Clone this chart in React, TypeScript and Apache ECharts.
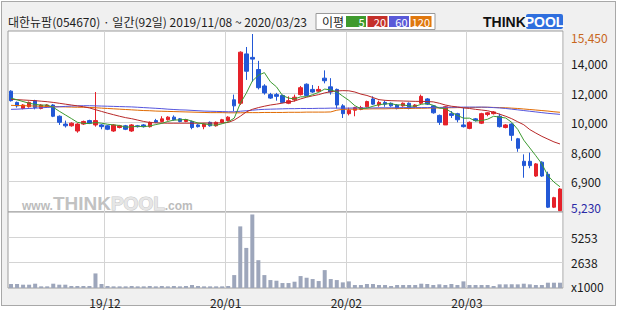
import React, { useEffect, useRef } from 'react';
import * as echarts from 'echarts';

// ---- trading days (2019/11/08 ~ 2020/03/23) ----
const nov19 = [8, 11, 12, 13, 14, 15, 18, 19, 20, 21, 22, 25, 26, 27, 28, 29];
const dec19 = [2, 3, 4, 5, 6, 9, 10, 11, 12, 13, 16, 17, 18, 19, 20, 23, 24, 26, 27, 30];
const jan20 = [2, 3, 6, 7, 8, 9, 10, 13, 14, 15, 16, 17, 20, 21, 22, 23, 28, 29, 30, 31];
const feb20 = [3, 4, 5, 6, 7, 10, 11, 12, 13, 14, 17, 18, 19, 20, 21, 24, 25, 26, 27, 28];
const mar20 = [2, 3, 4, 5, 6, 9, 10, 11, 12, 13, 16, 17, 18, 19, 20, 23];

const stockName = '대한뉴팜';
const stockCode = '054670';

// ---- prices ----
const opens = [12150, 11500, 11150, 11250, 11600, 11150, 11250, 11350, 10700, 10250,
  10150, 9850, 10250, 10450, 10200, 10200, 10150, 9850, 10050, 10150,
  9850, 10150, 10200, 10100, 10450, 10400, 10500, 10650, 10550, 10400,
  10400, 10200, 10100, 10350, 10150, 10350, 10450, 11650, 11450, 14300,
  14100, 13400, 12450, 11950, 11950, 11900, 11450, 11650, 11950, 12550,
  12250, 12150, 12900, 12400, 12250, 11300, 10850, 11050, 11100, 11250,
  11700, 11350, 11500, 11450, 11350, 11300, 11450, 11250, 11450, 11700,
  11300, 10750, 10200, 10850, 10850, 10200, 10000, 10550, 10300, 10800,
  10850, 10700, 10050, 10250, 9400, 8100, 8100, 7250, 8050, 7350,
  5450, 5250];
const closes = [11600, 11300, 11350, 11500, 11200, 11350, 11350, 10700, 10350, 10150,
  10300, 10250, 10400, 10300, 10450, 10100, 9950, 10200, 10150, 9950,
  10200, 10100, 10100, 10350, 10350, 10550, 10650, 10500, 10400, 10500,
  10050, 10100, 10250, 10150, 10350, 10500, 10650, 11300, 14400, 13300,
  14000, 12350, 12050, 11750, 11850, 11500, 11600, 11800, 12350, 11900,
  12100, 12250, 12750, 12100, 11350, 10850, 11050, 11200, 11200, 11550,
  11400, 11500, 11400, 11300, 11150, 11450, 11150, 11350, 11850, 11400,
  10900, 10350, 11250, 10750, 10500, 10100, 10350, 10450, 10850, 10900,
  10950, 10100, 10200, 9600, 8850, 7850, 7850, 7950, 7250, 5450,
  6000, 6500];
const lows = [11550, 11200, 11100, 11200, 11100, 11100, 11200, 10650, 10200, 10050,
  10100, 9750, 10200, 10250, 10100, 9950, 9900, 9800, 10000, 9900,
  9800, 10050, 10050, 10050, 10300, 10350, 10450, 10450, 10350, 10350,
  9950, 10050, 9950, 10100, 10100, 10300, 10400, 11000, 11350, 12800,
  12700, 12250, 11950, 11700, 11600, 11450, 11400, 11550, 11900, 11850,
  12050, 12100, 12600, 11950, 11150, 10600, 10750, 10700, 11050, 11200,
  11350, 11250, 11250, 11250, 11100, 11250, 11100, 11200, 11400, 11350,
  10850, 10200, 10200, 10600, 10350, 10050, 9950, 10400, 10250, 10700,
  10800, 10050, 10000, 9280, 8650, 7150, 7700, 7200, 7200, 5400,
  5400, 5230];
const highs = [12200, 11550, 11400, 11550, 11650, 11400, 11400, 11400, 10750, 10450,
  10350, 10300, 10450, 10500, 12100, 10250, 10200, 10250, 10200, 10200,
  10250, 10200, 10250, 10400, 10550, 10700, 10700, 10750, 10600, 10550,
  10450, 10250, 10300, 10400, 10400, 10550, 10700, 11950, 14450, 14700,
  15450, 13900, 12550, 12050, 12050, 11950, 11850, 11950, 12450, 12600,
  12500, 12450, 13350, 12900, 12300, 11400, 11200, 11250, 11300, 11600,
  11850, 11600, 11600, 11500, 11400, 11500, 11500, 11400, 11950, 11750,
  11350, 10800, 11300, 11000, 10900, 11200, 10400, 10600, 10900, 10950,
  11000, 10850, 10250, 10300, 9450, 8500, 8600, 8000, 8100, 7500,
  6050, 6550];

// ---- moving averages ----
const ma5 = [11750, 11650, 11550, 11450, 11390, 11340, 11350, 11220, 10990, 10780,
  10570, 10350, 10290, 10280, 10340, 10300, 10240, 10200, 10170, 10070,
  10090, 10120, 10100, 10140, 10220, 10290, 10400, 10480, 10490, 10520,
  10420, 10310, 10260, 10210, 10180, 10270, 10380, 10590, 11440, 12030,
  12730, 13070, 13220, 12690, 12400, 11900, 11750, 11700, 11820, 11830,
  11950, 12080, 12270, 12220, 12110, 11860, 11620, 11310, 11130, 11170,
  11280, 11370, 11410, 11430, 11350, 11360, 11290, 11280, 11390, 11440,
  11330, 11170, 11150, 10930, 10750, 10590, 10590, 10430, 10450, 10530,
  10700, 10650, 10600, 10350, 9940, 9320, 8870, 8420, 7950, 7270,
  6900, 6630];
const ma20 = [11680, 11660, 11640, 11620, 11600, 11570, 11540, 11500, 11450, 11400,
  11350, 11300, 11250, 11180, 11080, 10980, 10880, 10790, 10700, 10620,
  10560, 10480, 10400, 10340, 10320, 10310, 10300, 10300, 10300, 10300,
  10300, 10300, 10310, 10310, 10310, 10320, 10340, 10480, 10700, 10950,
  11100, 11200, 11280, 11350, 11400, 11460, 11520, 11580, 11700, 11800,
  11880, 11950, 12050, 12120, 12160, 12180, 12170, 12100, 11980, 11900,
  11780, 11660, 11620, 11600, 11590, 11580, 11570, 11560, 11560, 11550,
  11530, 11450, 11350, 11280, 11240, 11180, 11150, 11100, 11060, 11020,
  10930, 10820, 10700, 10560, 10380, 10210, 9930, 9730, 9540, 9380,
  9220, 9100];
const ma60 = [11100, 11110, 11130, 11150, 11170, 11190, 11210, 11230, 11250, 11270,
  11290, 11300, 11310, 11310, 11300, 11290, 11280, 11270, 11260, 11250,
  11240, 11220, 11200, 11180, 11160, 11140, 11110, 11090, 11070, 11060,
  11040, 11020, 11000, 10990, 10980, 10970, 10960, 10960, 10990, 11020,
  11050, 11080, 11100, 11110, 11120, 11130, 11140, 11140, 11150, 11150,
  11150, 11160, 11160, 11170, 11170, 11170, 11170, 11180, 11180, 11180,
  11180, 11190, 11190, 11190, 11190, 11200, 11200, 11200, 11200, 11200,
  11210, 11210, 11220, 11220, 11220, 11230, 11230, 11230, 11230, 11220,
  11200, 11180, 11150, 11110, 11070, 11030, 10990, 10950, 10910, 10870,
  10840, 10810];
const ma120 = [11330, 11320, 11310, 11300, 11290, 11280, 11270, 11260, 11250, 11240,
  11230, 11220, 11220, 11210, 11190, 11170, 11150, 11130, 11110, 11090,
  11070, 11050, 11030, 11020, 11000, 10990, 10980, 10970, 10960, 10950,
  10940, 10930, 10920, 10910, 10910, 10910, 10900, 10900, 10900, 10910,
  10910, 10910, 10920, 10920, 10920, 10920, 10930, 10930, 10930, 10940,
  10940, 10940, 10940, 10950, 11050, 11100, 11110, 11110, 11120, 11120,
  11130, 11130, 11130, 11140, 11140, 11150, 11150, 11160, 11160, 11170,
  11180, 11180, 11190, 11190, 11200, 11200, 11210, 11210, 11220, 11220,
  11210, 11200, 11190, 11170, 11150, 11120, 11090, 11060, 11030, 11000,
  10960, 10930];

// ---- volume (x1000) ----
const volumes = [413, 413, 344, 344, 447, 172, 172, 447, 344, 344,
  207, 207, 207, 207, 1515, 413, 207, 172, 172, 172,
  207, 172, 172, 207, 172, 207, 172, 207, 172, 207,
  310, 207, 172, 172, 172, 172, 207, 1343, 6405, 4166,
  7644, 2892, 1343, 826, 757, 516, 516, 654, 1240, 1067,
  930, 723, 1860, 930, 826, 585, 689, 310, 310, 413,
  413, 310, 310, 207, 310, 310, 310, 310, 447, 413,
  310, 379, 310, 413, 310, 689, 310, 310, 310, 310,
  207, 379, 379, 379, 379, 447, 379, 310, 310, 551,
  551, 551];

// ---- axis ticks ----
const priceMin = 5230;
const priceMax = 15450;
const priceTickLabels = ['5,230', '6,900', '8,600', '10,000', '12,000', '14,000', '15,450'];
const volumeMax = 7900;
const volumeTickLabels = ['x1000', '2638', '5253', ''];

const maPeriods = ['5', '20', '60', '120'];
const maColors = ['#3f9a2e', '#c4302a', '#5a5ad8', '#e0780e'];
const maLineColors = ['#3c9a30', '#b82828', '#5555dd', '#e06a00'];

const UP = '#e5222a';
const DOWN = '#2258d6';
const GRID_LINE = '#d4d4d4';
const FONT = '"Noto Sans CJK KR", "Noto Sans", sans-serif';

const pad = (d: number) => (d < 10 ? '0' + d : '' + d);
const categories: string[] = [
  ...nov19.map((d) => `2019/11/${pad(d)}`),
  ...dec19.map((d) => `2019/12/${pad(d)}`),
  ...jan20.map((d) => `2020/01/${pad(d)}`),
  ...feb20.map((d) => `2020/02/${pad(d)}`),
  ...mar20.map((d) => `2020/03/${pad(d)}`),
];
const monthStarts: number[] = categories
  .map((c, i) => (i > 0 && c.slice(0, 7) !== categories[i - 1].slice(0, 7) ? i : -1))
  .filter((i) => i >= 0);

const ohlc = opens.map((o, i) => [o, closes[i], lows[i], highs[i]]);

function buildOption() {
  const title = `${stockName}(${stockCode}) · 일간(${categories.length}일) ${categories[0]} ~ ${categories[categories.length - 1]}`;
  const legendGraphics: any[] = [
    { type: 'rect', shape: { x: 316, y: 13.5, width: 119, height: 16 }, style: { fill: '#fff', stroke: '#9a9a9a', lineWidth: 1 } },
    { type: 'text', x: 322, y: 21.5, style: { text: '이평', font: `12px ${FONT}`, fill: '#222', verticalAlign: 'middle' } },
  ];
  const boxX = [346, 367.5, 389, 410.5];
  const boxW = [20, 20, 20, 21];
  maPeriods.forEach((p, i) => {
    legendGraphics.push({ type: 'rect', shape: { x: boxX[i], y: 16, width: boxW[i], height: 11 }, style: { fill: maColors[i] } });
    legendGraphics.push({ type: 'text', x: boxX[i] + boxW[i] - 1.5, y: 21.8, style: { text: p, font: `11px ${FONT}`, fill: '#fff', align: 'right', verticalAlign: 'middle' } });
  });

  return {
    animation: false,
    textStyle: { fontFamily: FONT },
    grid: [
      { left: 8, top: 31, width: 555, height: 181, show: true, backgroundColor: '#fff', borderColor: '#9c9c9c', borderWidth: 1 },
      { left: 8, top: 34, width: 555, height: 177 },
      { left: 8, top: 212, width: 555, height: 76, show: true, backgroundColor: '#fff', borderColor: '#9c9c9c', borderWidth: 1 },
    ],
    xAxis: [
      {
        type: 'category', gridIndex: 0, data: categories, boundaryGap: true,
        axisLine: { show: false }, axisTick: { show: false }, axisLabel: { show: false },
        splitLine: { show: true, interval: (i: number) => monthStarts.includes(i), lineStyle: { color: GRID_LINE, width: 1 } },
      },
      { type: 'category', gridIndex: 1, data: categories, boundaryGap: true, show: false },
      {
        type: 'category', gridIndex: 2, data: categories, boundaryGap: true,
        axisLine: { show: false }, axisTick: { show: false },
        axisLabel: {
          interval: (i: number) => monthStarts.includes(i),
          formatter: (v: string) => `${v.slice(2, 4)}/${v.slice(5, 7)}`,
          color: '#222', fontSize: 12, fontFamily: FONT, margin: 8, padding: [0, 5, 0, 0],
        },
        splitLine: { show: true, interval: (i: number) => monthStarts.includes(i), lineStyle: { color: GRID_LINE, width: 1 } },
      },
    ],
    yAxis: [
      { type: 'value', gridIndex: 0, min: 0, max: 1, show: false },
      { type: 'value', gridIndex: 1, min: priceMin, max: priceMax, show: false },
      {
        type: 'value', gridIndex: 1, min: 0, max: priceTickLabels.length - 1, interval: 1, position: 'right',
        axisLine: { show: false }, axisTick: { show: false },
        axisLabel: {
          margin: 8, align: 'left',
          formatter: (v: number) => {
            const i = Math.round(v);
            const t = priceTickLabels[i];
            if (i === priceTickLabels.length - 1) return `{hi|${t}}`;
            if (i === 0) return `{lo|${t}}`;
            return `{n|${t}}`;
          },
          rich: {
            hi: { color: '#c8661c', fontSize: 12, fontFamily: FONT, padding: [7, 0, 0, 0] },
            lo: { color: '#2a2aa6', fontSize: 12, fontFamily: FONT, padding: [0, 0, 8, 0] },
            n: { color: '#1a1a1a', fontSize: 12, fontFamily: FONT },
          },
        },
        splitLine: {
          show: true,
          lineStyle: { color: priceTickLabels.map((_, i) => (i === 0 || i === priceTickLabels.length - 1 ? 'rgba(0,0,0,0)' : GRID_LINE)), width: 1 },
        },
      },
      { type: 'value', gridIndex: 2, min: 0, max: volumeMax, show: false },
      {
        type: 'value', gridIndex: 2, min: 0, max: volumeTickLabels.length - 1, interval: 1, position: 'right',
        axisLine: { show: false }, axisTick: { show: false },
        axisLabel: {
          margin: 8, align: 'left',
          formatter: (v: number) => {
            const i = Math.round(v);
            const t = volumeTickLabels[i];
            if (!t) return '';
            if (i === 0) return `{b|${t}}`;
            return `{n|${t}}`;
          },
          rich: {
            b: { color: '#1a1a1a', fontSize: 12, fontFamily: FONT, padding: [0, 0, 3, 0] },
            n: { color: '#1a1a1a', fontSize: 12, fontFamily: FONT },
          },
        },
        splitLine: {
          show: true,
          lineStyle: { color: volumeTickLabels.map((_, i) => (i === 0 || i === volumeTickLabels.length - 1 ? 'rgba(0,0,0,0)' : GRID_LINE)), width: 1 },
        },
      },
    ],
    series: [
      {
        type: 'candlestick', xAxisIndex: 1, yAxisIndex: 1, data: ohlc, barWidth: 4,
        itemStyle: { color: UP, color0: DOWN, borderColor: UP, borderColor0: DOWN, borderWidth: 1 },
      },
      ...[ma120, ma60, ma20, ma5].map((d, k) => ({
        type: 'line', xAxisIndex: 1, yAxisIndex: 1, data: d, symbol: 'none', showSymbol: false,
        lineStyle: { color: maLineColors[3 - k], width: 1 }, z: 3,
      })),
      {
        type: 'bar', xAxisIndex: 2, yAxisIndex: 3, data: volumes, barWidth: 4,
        itemStyle: { color: '#9da6bb' },
      },
    ],
    graphic: [
      { type: 'text', x: 8, y: 21, style: { text: title, font: `12px ${FONT}`, fill: '#1e1e1e', verticalAlign: 'middle' } },
      ...legendGraphics,
      // THINKPOOL logo
      { type: 'text', x: 483, y: 21.5, style: { text: 'THINK', font: `bold 14px "Liberation Sans", sans-serif`, fill: '#111', verticalAlign: 'middle' } },
      { type: 'rect', shape: { x: 526, y: 14, width: 37, height: 15, r: 2 }, style: { fill: '#2f6fde' } },
      { type: 'text', x: 544.5, y: 21.8, style: { text: 'POOL', font: `bold 14px "Liberation Sans", sans-serif`, fill: '#fff', align: 'center', verticalAlign: 'middle' } },
      // watermark
      {
        type: 'text', x: 22, y: 203, z: 1,
        style: {
          text: '{w|www.}{t|THINK}{p|POOL}{c|.com}',
          verticalAlign: 'middle',
          rich: {
            w: { font: `bold 12px "Liberation Sans", sans-serif`, fill: '#bcbcbc', padding: [5, 0, 0, 0] },
            t: { font: `bold 19px "Liberation Sans", sans-serif`, fill: '#c2c2c2' },
            p: { font: `bold 19px "Liberation Sans", sans-serif`, fill: '#e6e6e6', stroke: '#c8c8c8', lineWidth: 1 },
            c: { font: `bold 12px "Liberation Sans", sans-serif`, fill: '#bcbcbc', padding: [5, 0, 0, 0] },
          },
        },
      },
    ],
  };
}

export default function App() {
  const ref = useRef<HTMLDivElement>(null);
  useEffect(() => {
    if (!ref.current) return;
    const chart = echarts.init(ref.current, undefined, { renderer: 'svg' });
    chart.setOption(buildOption() as any);
    return () => chart.dispose();
  }, []);
  return (
    <div style={{ position: 'fixed', left: 0, top: 0, width: 620, height: 310, background: '#fff' }}>
      <div style={{ position: 'absolute', left: 1, top: 1, width: 615, height: 305, boxSizing: 'border-box', border: '1px solid #a8a8a8', background: '#f0f0f0' }} />
      <div ref={ref} style={{ position: 'absolute', left: 0, top: 0, width: 620, height: 310 }} />
    </div>
  );
}
